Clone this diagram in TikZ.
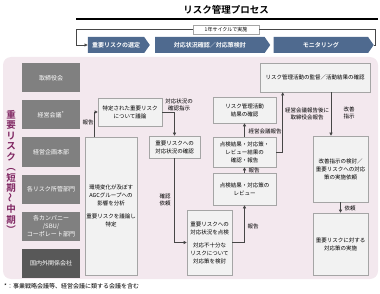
\documentclass[tikz,border=0pt]{standalone}
\usepackage{fontspec}
\setmainfont{Noto Sans CJK JP}[BoldFont={* Bold}]
\usepackage{graphicx}
\usetikzlibrary{arrows.meta,positioning,shapes.symbols,calc}
\definecolor{riskBlue}{RGB}{79,106,143}
\definecolor{riskPink}{RGB}{243,232,238}
\definecolor{riskGray}{RGB}{128,128,128}
\definecolor{riskDark}{RGB}{88,88,88}
\definecolor{riskBox}{RGB}{242,242,242}
\definecolor{riskEdge}{RGB}{165,165,165}
\definecolor{riskPurple}{RGB}{128,38,98}
\definecolor{riskLine}{RGB}{70,70,70}

\begin{document}
\begin{tikzpicture}[
  x=1pt,y=-1pt,
  stage/.style={
    signal,
    signal to=east,
    signal pointer angle=110,
    fill=riskBlue,
    text=white,
    minimum height=16pt,
    inner sep=0pt,
    font=\bfseries\fontsize{6}{7}\selectfont
  },
  role/.style={
    fill=riskGray,
    text=white,
    minimum width=58pt,
    minimum height=29pt,
    align=center,
    font=\fontsize{6}{8}\selectfont
  },
  task/.style={
    draw=riskEdge,
    fill=riskBox,
    line width=0.6pt,
    align=center,
    inner sep=1pt,
    font=\fontsize{5.5}{8}\selectfont
  },
  tag/.style={align=center,inner sep=0pt,font=\fontsize{5.5}{7}\selectfont},
  flow/.style={-{Triangle[length=3pt,width=3pt]},riskLine,line width=0.6pt}
]
  \useasboundingbox (0,0) rectangle (380,294);

  % title and yearly cycle
  \node[font=\bfseries\fontsize{9.5}{11}\selectfont] (title) at (226,10) {リスク管理プロセス};
  \draw[line width=1.2pt] (76,19) -- (378,19);
  \node[stage,minimum width=62pt] (select) at (116,45) {重要リスクの選定};
  \node[stage,minimum width=115pt,right=5pt of select] (respond) {対応状況確認／対応策検討};
  \node[stage,minimum width=100pt,right=3pt of respond] (monitor) {モニタリング};
  \node[draw=riskEdge,fill=white,line width=0.6pt,minimum width=66pt,minimum height=9pt,inner sep=0pt,
    font=\fontsize{5}{6}\selectfont] (cycle) at (226,29.5) {1年サイクルで実施};
  \coordinate (loopR) at (375,45);
  \coordinate (loopL) at (76,45);
  \draw[riskLine,line width=0.6pt] (monitor.east) -- (loopR) |- (cycle.east);
  \draw[flow] (cycle.west) -| (loopL) -- (select.west);

  % background
  \fill[riskPink,rounded corners=8pt] (3,57) rectangle (378,279);
  \node[text=riskPurple,align=center,inner sep=0pt,font=\bfseries\fontsize{9.5}{10.5}\selectfont] (scope) at (11,172)
    {重\\要\\リ\\ス\\ク\\︵\\短\\期\\\rotatebox{90}{～}\\中\\期\\︶};

  % organisation rows
  \node[role] (board) at (51,78) {取締役会};
  \node[role,below=7.6pt of board] (mgmt) {経営会議\textsuperscript{*}};
  \node[role,below=7.6pt of mgmt] (plan) {経営企画本部};
  \node[role,below=7.6pt of plan] (owner) {各リスク所管部門};
  \node[role,below=7.6pt of owner] (company) {各カンパニー\\/SBU/\\コーポレート部門};
  \node[role,fill=riskDark,below=7.6pt of company] (affil) {国内外関係会社};

  % process boxes
  \node[task,minimum width=110pt,minimum height=29pt] (supervise) at (315,77.5) {リスク管理活動の監督／活動結果の確認};
  \node[task,minimum width=64pt,minimum height=28pt] (discuss) at (130,112) {特定された重要リスク\\について議論};
  \node[task,minimum width=52pt,minimum height=138pt] (analyse) at (111,206)
    {環境変化が及ぼす\\AGCグループへの\\影響を分析\\[5pt]重要リスクを議論し\\特定};
  \node[task,minimum width=51pt,minimum height=22pt] (confirm) at (174.5,147) {重要リスクへの\\対応状況の確認};
  \node[task,minimum width=45pt,minimum height=65pt] (inspect) at (209.5,242.5)
    {重要リスクへの\\対応状況を点検\\[5pt]対応不十分な\\リスクについて\\対応策を検討};
  \node[task,minimum width=63pt,minimum height=32pt] (review) at (244.5,189) {点検結果・対応策の\\レビュー};
  \node[task,minimum width=63pt,minimum height=30pt] (report) at (244.5,152) {点検結果・対応策・\\レビュー結果の\\確認・報告};
  \node[task,minimum width=63pt,minimum height=26pt] (result) at (244.5,110) {リスク管理活動\\結果の確認};
  \node[task,minimum width=55pt,minimum height=66pt] (improve) at (340.5,169) {改善指示の検討／\\重要リスクへの対応\\策の実施依頼};
  \node[task,minimum width=55pt,minimum height=62pt] (execute) at (340.5,244) {重要リスクに対する\\対応策の実施};

  % connectors
  \draw[flow] ([xshift=10pt]analyse.north west) |- (discuss.west);
  \node[tag] (lblA) at (88,122) {報告};
  \draw[flow] (discuss.east) -| (confirm.north);
  \node[tag] (lblB) at (179,105) {対応状況の\\確認指示};
  \draw[flow] (confirm.south) |- (inspect.west);
  \node[tag] (lblC) at (165,200) {確認\\依頼};
  \draw[flow] (inspect.east) -| (review.south);
  \node[tag] (lblD) at (253,226) {報告};
  \draw[flow] (review.north) -- (report.south);
  \node[tag] (lblE) at (254,170) {報告};
  \draw[flow] (report.north) -- (result.south);
  \node[tag] (lblF) at (265,131) {経営会議報告};
  \draw[flow] (report.east) -| ([xshift=23pt]supervise.south west);
  \node[tag] (lblG) at (307,114) {経営会議報告後に\\取締役会報告};
  \draw[flow] ([xshift=16pt]supervise.south) -- ([xshift=-9.5pt]improve.north);
  \node[tag] (lblH) at (349,113) {改善\\指示};
  \draw[flow] (improve.south) -- (execute.north);
  \node[tag] (lblI) at (350,208) {依頼};

  % footnote
  \node[anchor=west,inner sep=0pt,font=\fontsize{6}{7}\selectfont] (note) at (4,286) {*：事業戦略会議等、経営会議に類する会議を含む};
\end{tikzpicture}
\end{document}
